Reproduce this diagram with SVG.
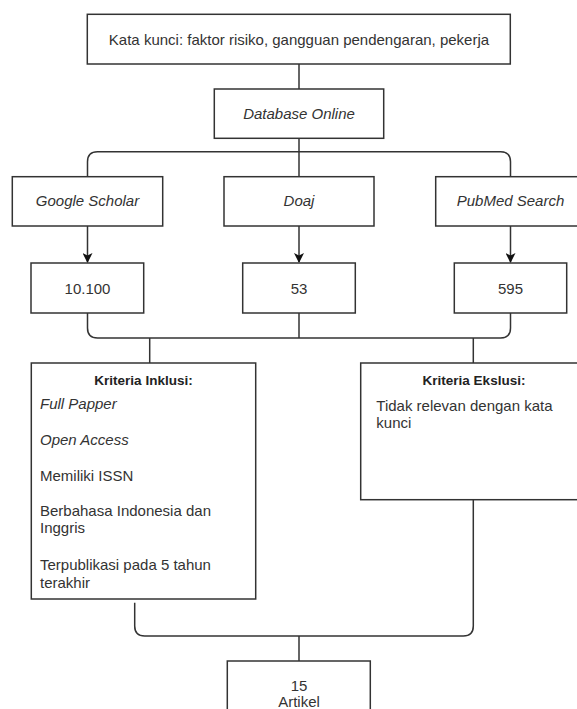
<svg xmlns="http://www.w3.org/2000/svg" width="577" height="709" viewBox="0 0 577 709">
<style>
.box{fill:#fff;stroke:#333;stroke-width:1.5}
.ln{fill:none;stroke:#333;stroke-width:1.5}
text{font-family:"Liberation Sans",Arial,sans-serif;font-size:15px;fill:#333}
.c{text-anchor:middle}
.i{font-style:italic}
.b{font-weight:bold;font-size:13.5px;fill:#222}
</style>
<defs>
<marker id="arr" viewBox="0 0 10 10" refX="9" refY="5" markerWidth="10" markerHeight="10" markerUnits="userSpaceOnUse" orient="auto">
<path d="M0,0 L10,5 L0,10 L2.5,5 Z" fill="#111"/>
</marker>
</defs>
<rect width="577" height="709" fill="#fff"/>
<g id="connectors">
<path class="ln" d="M299,64 V89"/>
<path class="ln" d="M299,138.3 V176.7"/>
<path class="ln" d="M87.5,176.7 V161.7 Q87.5,151.7 97.5,151.7 H500.5 Q510.5,151.7 510.5,161.7 V176.7"/>
<path class="ln" d="M87.5,226 V262" marker-end="url(#arr)"/>
<path class="ln" d="M299,226 V262" marker-end="url(#arr)"/>
<path class="ln" d="M510.5,226 V262" marker-end="url(#arr)"/>
<path class="ln" d="M87.5,313 V328 Q87.5,338 97.5,338 H500.5 Q510.5,338 510.5,328 V313"/>
<path class="ln" d="M299,313 V338"/>
<path class="ln" d="M149.7,338 V363"/>
<path class="ln" d="M473.3,338 V363"/>
<path class="ln" d="M134.7,602.7 V626 Q134.7,636 144.7,636 H463.3 Q473.3,636 473.3,626 V499.7"/>
<path class="ln" d="M299,636 V661"/>
</g>
<g id="kata-kunci">
<rect class="box" x="87.3" y="14.3" width="423" height="49.7"/>
<text class="c" x="299" y="45">Kata kunci: faktor risiko, gangguan pendengaran, pekerja</text>
</g>
<g id="database-online">
<rect class="box" x="214.3" y="89" width="169.4" height="49.3"/>
<text class="c i" x="299" y="119">Database Online</text>
</g>
<g id="google-scholar">
<rect class="box" x="12.3" y="176.7" width="150.4" height="49.3"/>
<text class="c i" x="87.5" y="206.3">Google Scholar</text>
</g>
<g id="doaj">
<rect class="box" x="224" y="176.7" width="150" height="49.3"/>
<text class="c i" x="299" y="206.3">Doaj</text>
</g>
<g id="pubmed">
<rect class="box" x="435.7" y="176.7" width="150" height="49.3"/>
<text class="c i" x="510.5" y="206.3">PubMed Search</text>
</g>
<g id="n-10100">
<rect class="box" x="31" y="263" width="112.7" height="50"/>
<text class="c" x="87.5" y="293.5">10.100</text>
</g>
<g id="n-53">
<rect class="box" x="242.7" y="263" width="112.6" height="50"/>
<text class="c" x="299" y="293.5">53</text>
</g>
<g id="n-595">
<rect class="box" x="454.3" y="263" width="112.4" height="50"/>
<text class="c" x="510.5" y="293.5">595</text>
</g>
<g id="kriteria-inklusi">
<rect class="box" x="31.3" y="363" width="224.4" height="236"/>
<text class="c b" x="143.5" y="384.7">Kriteria Inklusi:</text>
<text class="i" x="40" y="409">Full Papper</text>
<text class="i" x="40" y="444.7">Open Access</text>
<text x="40" y="481.3">Memiliki ISSN</text>
<text x="40" y="515.7">Berbahasa Indonesia dan</text>
<text x="40" y="533">Inggris</text>
<text x="40" y="570.3">Terpublikasi pada 5 tahun</text>
<text x="40" y="587.7">terakhir</text>
</g>
<g id="kriteria-ekslusi">
<rect class="box" x="360.7" y="363" width="226" height="136.7"/>
<text class="c b" x="474" y="384.7">Kriteria Ekslusi:</text>
<text x="376.3" y="410.7">Tidak relevan dengan kata</text>
<text x="376.3" y="428">kunci</text>
</g>
<g id="artikel">
<rect class="box" x="227.3" y="661" width="143" height="60"/>
<text class="c" x="299" y="691">15</text>
<text class="c" x="299" y="707">Artikel</text>
</g>
</svg>
